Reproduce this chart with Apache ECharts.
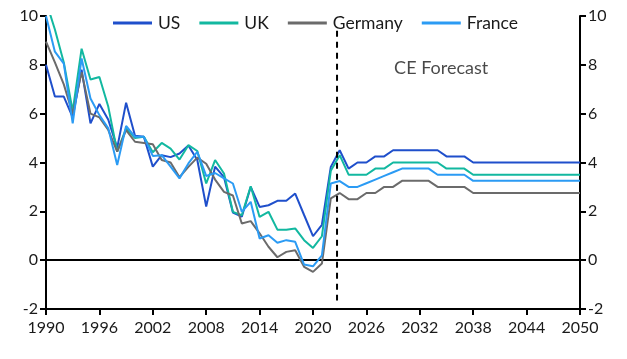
<!DOCTYPE html>
<html>
<head>
<meta charset="utf-8">
<script src="https://cdn.jsdelivr.net/npm/echarts@6/dist/echarts.min.js"></script>
<style>
html,body{margin:0;padding:0;background:#fff;}
#chart{width:627px;height:359px;}
</style>
</head>
<body>
<div id="chart"></div>
<script>
const startYear = 1990;
const endYear = 2050;
const years = [];
for (let y = startYear; y <= endYear; y++) years.push(y);

const xTicks = [1990, 1996, 2002, 2008, 2014, 2020, 2026, 2032, 2038, 2044, 2050];
const yTicks = [-2, 0, 2, 4, 6, 8, 10];

const usValues = [
  8.0, 6.7, 6.7, 5.85, 7.8, 5.6, 6.4, 5.75, 4.6, 6.45,
  5.1, 5.05, 3.83, 4.3, 4.22, 4.37, 4.7, 4.1, 2.2, 3.83,
  3.4, 1.95, 1.78, 3.0, 2.18, 2.25, 2.43, 2.43, 2.73, 1.85,
  0.98, 1.45, 3.82, 4.5, 3.75, 4.0, 4.0, 4.25, 4.25, 4.5,
  4.5, 4.5, 4.5, 4.5, 4.5, 4.25, 4.25, 4.25, 4.0, 4.0,
  4.0, 4.0, 4.0, 4.0, 4.0, 4.0, 4.0, 4.0, 4.0, 4.0, 4.0
];
const ukValues = [
  10.6, 9.45, 8.1, 6.1, 8.66, 7.4, 7.5, 6.28, 4.44, 5.4,
  5.0, 5.05, 4.42, 4.8, 4.57, 4.12, 4.71, 4.47, 3.14, 4.1,
  3.55, 1.98, 1.84, 3.03, 1.77, 1.98, 1.25, 1.25, 1.3, 0.82,
  0.5, 0.98, 3.66, 4.3, 3.5, 3.5, 3.5, 3.75, 3.75, 4.0,
  4.0, 4.0, 4.0, 4.0, 4.0, 3.75, 3.75, 3.75, 3.5, 3.5,
  3.5, 3.5, 3.5, 3.5, 3.5, 3.5, 3.5, 3.5, 3.5, 3.5, 3.5
];
const germanyValues = [
  8.95, 8.1, 7.2, 6.0, 7.7, 6.0, 5.85, 5.33, 4.45, 5.33,
  4.85, 4.8, 4.75, 4.1, 4.0, 3.4, 3.82, 4.2, 3.95, 3.3,
  2.8, 2.65, 1.5, 1.6, 1.1, 0.55, 0.12, 0.34, 0.41, -0.27,
  -0.48, -0.14, 2.53, 2.75, 2.5, 2.5, 2.75, 2.75, 3.0, 3.0,
  3.25, 3.25, 3.25, 3.25, 3.0, 3.0, 3.0, 3.0, 2.75, 2.75,
  2.75, 2.75, 2.75, 2.75, 2.75, 2.75, 2.75, 2.75, 2.75, 2.75, 2.75
];
const franceValues = [
  10.0, 8.54, 8.05, 5.6, 8.26, 6.62, 5.94, 5.4, 3.9, 5.5,
  5.05, 5.05, 4.27, 4.3, 3.83, 3.35, 3.96, 4.44, 3.45, 3.57,
  3.35, 3.14, 1.98, 2.39, 0.89, 1.02, 0.71, 0.82, 0.75, -0.18,
  -0.25, 0.2, 3.14, 3.24, 3.0, 3.0, 3.15, 3.3, 3.45, 3.6,
  3.75, 3.75, 3.75, 3.75, 3.5, 3.5, 3.5, 3.5, 3.25, 3.25,
  3.25, 3.25, 3.25, 3.25, 3.25, 3.25, 3.25, 3.25, 3.25, 3.25, 3.25
];

const seriesNames = ['US', 'UK', 'Germany', 'France'];
const seriesColors = ['#1f4fcb', '#12b8a0', '#6b6b6b', '#2b9bf4'];
const seriesValues = [usValues, ukValues, germanyValues, franceValues];

const forecastYear = 2022.7;
const forecastLineSpan = [9.4, -1.65];
const forecastLabel = 'CE Forecast';
const forecastLabelPos = [2034.4, 7.85];

const FONT = 'Lato';
const chart = echarts.init(document.getElementById('chart'));

const series = seriesNames.map((name, i) => ({
  name,
  type: 'line',
  data: years.map((y, j) => [y, seriesValues[i][j]]),
  symbol: 'none',
  lineStyle: { width: 2, color: seriesColors[i] },
  itemStyle: { color: seriesColors[i] },
  z: 3 + i
}));

series[0].markLine = {
  silent: true,
  symbol: ['none', 'none'],
  label: { show: false },
  lineStyle: { color: '#000', type: 'solid', width: 2 },
  data: [{ yAxis: 0 }],
  animation: false
};

series.push({
  name: 'forecastMarker',
  type: 'line',
  data: forecastLineSpan.map(v => [forecastYear, v]),
  symbol: 'none',
  lineStyle: { color: '#000', type: [6, 5], width: 2 },
  z: 10,
  silent: true
});

series.push({
  type: 'scatter',
  data: [forecastLabelPos],
  symbolSize: 0,
  silent: true,
  label: {
    show: true,
    formatter: forecastLabel,
    color: '#1a1a1a',
    fontFamily: FONT,
    fontSize: 18,
    position: 'inside'
  }
});

const axisCommon = {
  type: 'value',
  min: -2,
  max: 10,
  interval: 2,
  axisLine: { show: true, lineStyle: { color: '#000', width: 2 } },
  axisTick: { show: true, length: 6, lineStyle: { color: '#000', width: 2 } },
  splitLine: { show: false },
  axisLabel: { color: '#1a1a1a', fontFamily: FONT, fontSize: 16, margin: 8 }
};

chart.setOption({
  animation: false,
  backgroundColor: '#fff',
  grid: { left: 46, right: 47, top: 16, bottom: 50, containLabel: false },
  legend: {
    data: seriesNames,
    left: 108,
    top: 9,
    itemWidth: 39,
    itemHeight: 3,
    itemGap: 19,
    icon: 'rect',
    textStyle: { color: '#1a1a1a', fontFamily: FONT, fontSize: 17.5, padding: [0, 0, 0, 1] }
  },
  xAxis: {
    type: 'value',
    min: startYear,
    max: endYear,
    interval: 6,
    axisLine: { show: true, onZero: false, lineStyle: { color: '#000', width: 2 } },
    axisTick: { show: true, length: 6, lineStyle: { color: '#000', width: 2 } },
    splitLine: { show: false },
    axisLabel: {
      color: '#1a1a1a', fontFamily: FONT, fontSize: 16, margin: 11,
      formatter: v => xTicks.includes(v) ? String(v) : ''
    }
  },
  yAxis: [
    Object.assign({}, axisCommon, { position: 'left' }),
    Object.assign({}, axisCommon, { position: 'right' })
  ],
  series
});
</script>
</body>
</html>
